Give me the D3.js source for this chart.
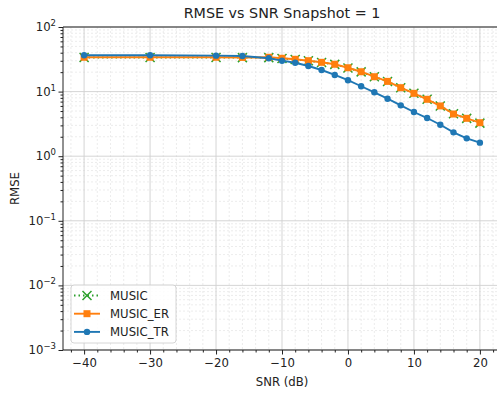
<!DOCTYPE html>
<html><head><meta charset="utf-8">
<script src="https://cdn.jsdelivr.net/npm/d3@7"></script>
<style>body{margin:0;background:#fff}svg{display:block;font-family:"DejaVu Sans",sans-serif}</style>
</head><body><svg id="c" width="497" height="394"></svg>
<script>
const snr = [-40,-30,-20,-16,-12,-10,-8,-6,-4,-2,0,2,4,6,8,10,12,14,16,18,20];
const music    = [33.8,33.8,33.8,33.6,33.6,32.6,31.4,30.0,28.2,26.4,23.2,20.2,17.0,14.3,11.5,9.4,7.6,6.0,4.55,3.85,3.25];
const musicER  = [34.0,34.0,34.0,33.8,34.0,32.8,31.6,30.1,28.4,26.5,23.4,20.3,17.0,14.4,11.5,9.4,7.6,6.0,4.5,3.86,3.3];
const musicTR  = [36.5,36.5,36.0,35.5,32.8,30.1,28.0,24.9,21.6,18.1,15.0,12.1,9.75,7.77,6.13,4.83,3.9,3.07,2.34,1.89,1.62];
const xTicks = [-40,-30,-20,-10,0,10,20];
const yTickExps = [2,1,0,-1,-2,-3];
const seriesNames = ["MUSIC","MUSIC_ER","MUSIC_TR"];
const colors = ["#2ca02c","#ff7f0e","#1f77b4"];

const svg = d3.select("#c");
const L=63, R=501, T=27, B=350;
const x = d3.scaleLinear().domain([-43.2,23.2]).range([L,R]);
const y = d3.scaleLog().domain([1e-3,1e2]).range([B,T]);

// grid
const g = svg.append("g");
const xMinor = d3.range(-42,23,2).filter(v=>v%10!==0);
const yMinor = [];
for(let e=-3;e<2;e++) for(let m=2;m<10;m++) yMinor.push(m*Math.pow(10,e));
g.selectAll(".xm").data(xMinor).enter().append("line")
 .attr("x1",d=>x(d)).attr("x2",d=>x(d)).attr("y1",T).attr("y2",B)
 .attr("stroke","#e4e4e4").attr("stroke-width",0.7).attr("stroke-dasharray","2,2");
g.selectAll(".ym").data(yMinor).enter().append("line")
 .attr("x1",L).attr("x2",R).attr("y1",d=>y(d)).attr("y2",d=>y(d))
 .attr("stroke","#e4e4e4").attr("stroke-width",0.7).attr("stroke-dasharray","2,2");
g.selectAll(".xM").data(xTicks).enter().append("line")
 .attr("x1",d=>x(d)).attr("x2",d=>x(d)).attr("y1",T).attr("y2",B)
 .attr("stroke","#d0d0d0").attr("stroke-width",0.9);
g.selectAll(".yM").data(yTickExps).enter().append("line")
 .attr("x1",L).attr("x2",R).attr("y1",d=>y(Math.pow(10,d))).attr("y2",d=>y(Math.pow(10,d)))
 .attr("stroke","#d0d0d0").attr("stroke-width",0.9);

// axes
const xAxis = d3.axisBottom(x).tickValues(xTicks).tickSize(4.5).tickPadding(4)
  .tickFormat(d=>d<0?"\u2212"+Math.abs(d):d);
const gx = svg.append("g").attr("transform",`translate(0,${B})`).call(xAxis);
gx.select(".domain").remove();
gx.selectAll("text").attr("font-size",11.7).attr("fill","#222").attr("font-family","DejaVu Sans");
gx.selectAll("line").attr("stroke","#222");
const gxm = svg.append("g").attr("transform",`translate(0,${B})`).call(d3.axisBottom(x).tickValues(xMinor).tickSize(2.5).tickFormat(""));
gxm.select(".domain").remove(); gxm.selectAll("line").attr("stroke","#222");

const gy = svg.append("g").attr("transform",`translate(${L},0)`)
  .call(d3.axisLeft(y).tickValues(yTickExps.map(e=>Math.pow(10,e))).tickSize(4.5).tickFormat(""));
gy.select(".domain").remove(); gy.selectAll("line").attr("stroke","#222");
const gym = svg.append("g").attr("transform",`translate(${L},0)`)
  .call(d3.axisLeft(y).tickValues(yMinor).tickSize(2.5).tickFormat(""));
gym.select(".domain").remove(); gym.selectAll("line").attr("stroke","#222");
yTickExps.forEach(e=>{
  const t = svg.append("text").attr("x",L-7).attr("y",y(Math.pow(10,e))+4)
    .attr("text-anchor","end").attr("font-size",11.7).attr("fill","#222");
  t.append("tspan").text("10");
  t.append("tspan").attr("dy",-5).attr("font-size",8.5).text(e<0?"\u2212"+Math.abs(e):String(e));
});

// spines
svg.append("line").attr("x1",L).attr("x2",L).attr("y1",T).attr("y2",B).attr("stroke","#222").attr("stroke-width",1);
svg.append("line").attr("x1",L).attr("x2",R).attr("y1",B).attr("y2",B).attr("stroke","#222").attr("stroke-width",1);
svg.append("line").attr("x1",L).attr("x2",R).attr("y1",T).attr("y2",T).attr("stroke","#222").attr("stroke-width",1);

// series
const line = d3.line().x((d,i)=>x(snr[i])).y(d=>y(d));
const data = [music, musicER, musicTR];
function marker(sel, k, cx, cy){
  if(k===0){
    const s=4.5;
    sel.append("path").attr("d",`M${cx-s},${cy-s}L${cx+s},${cy+s}M${cx-s},${cy+s}L${cx+s},${cy-s}`)
      .attr("stroke",colors[0]).attr("stroke-width",1.5).attr("fill","none");
  } else if(k===1){
    sel.append("rect").attr("x",cx-3.5).attr("y",cy-3.5).attr("width",7).attr("height",7).attr("fill",colors[1]);
  } else {
    sel.append("circle").attr("cx",cx).attr("cy",cy).attr("r",3.2).attr("fill",colors[2]);
  }
}
data.forEach((vals,k)=>{
  const gs = svg.append("g");
  gs.append("path").datum(vals).attr("d",line).attr("fill","none").attr("stroke",colors[k])
    .attr("stroke-width",1.9).attr("stroke-dasharray",k===0?"1.5,3":null);
  vals.forEach((v,i)=>marker(gs,k,x(snr[i]),y(v)));
});

// legend
const lg = svg.append("g");
lg.append("rect").attr("x",71).attr("y",285).attr("width",105).attr("height",58).attr("rx",3)
  .attr("fill","#fff").attr("fill-opacity",0.85).attr("stroke","#ccc").attr("stroke-width",0.8);
seriesNames.forEach((n,k)=>{
  const cy = 295.5 + k*18.2;
  lg.append("line").attr("x1",74).attr("x2",100).attr("y1",cy).attr("y2",cy)
    .attr("stroke",colors[k]).attr("stroke-width",1.9).attr("stroke-dasharray",k===0?"1.5,3":null);
  marker(lg,k,87,cy);
  lg.append("text").attr("x",110).attr("y",cy+4).attr("font-size",11.7).attr("fill","#222").text(n);
});

// titles
svg.append("text").attr("x",282).attr("y",18).attr("text-anchor","middle").attr("font-size",14.3).attr("fill","#222")
  .text("RMSE vs SNR Snapshot = 1");
svg.append("text").attr("x",282).attr("y",386).attr("text-anchor","middle").attr("font-size",11.7).attr("fill","#222")
  .text("SNR (dB)");
svg.append("text").attr("transform",`translate(19,${(T+B)/2}) rotate(-90)`).attr("text-anchor","middle")
  .attr("font-size",11.7).attr("fill","#222").text("RMSE");
</script></body></html>
